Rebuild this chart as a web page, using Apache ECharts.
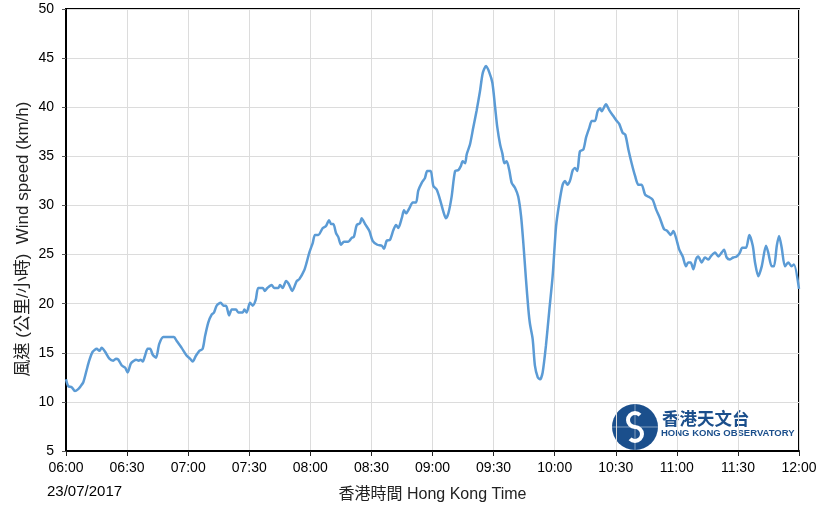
<!DOCTYPE html>
<html><head><meta charset="utf-8">
<script src="https://cdn.jsdelivr.net/npm/echarts@6/dist/echarts.min.js"></script>
<style>html,body{margin:0;padding:0;background:#fff}#c{width:823px;height:516px}</style>
</head><body><div id="c"></div>
<script>
// minutes after 06:00
const minutes = [0,1.1,2.8,4.4,6.0,7.2,8.5,10.2,11.4,13.1,15.1,16.4,17.5,19.2,21.3,23.2,24.6,25.7,27.4,29.0,30.3,31.8,33.4,34.4,35.7,36.7,37.7,38.8,40.1,41.3,42.6,44.2,45.8,47.8,50.2,53.0,54.4,56.8,59.3,60.9,62.2,63.8,65.5,67.1,68.3,69.9,71.6,72.7,74.0,76.0,77.3,78.6,80.1,81.4,83.5,84.6,86.8,87.6,88.7,90.4,91.7,93.2,94.4,96.6,97.7,98.9,101.0,102.2,104.3,105.1,106.4,108.1,109.4,111.1,113.3,114.6,117.0,118.2,119.5,121.2,122.3,123.9,126.1,127.7,129.2,130.2,131.3,132.6,133.7,135.1,136.5,138.6,140.3,141.4,142.8,144.4,145.2,146.9,149.0,150.6,152.9,155.1,156.2,157.5,159.1,160.8,162.1,163.2,164.9,166.0,167.0,168.6,170.3,171.9,173.0,174.7,176.3,177.4,179.1,180.4,182.1,183.7,185.3,186.6,187.8,189.4,191.1,192.7,193.9,194.8,196.0,196.8,198.4,200.0,201.7,203.3,204.7,206.3,207.8,209.4,210.7,211.8,213.2,214.3,215.3,216.4,217.7,218.9,220.5,222.1,223.5,224.6,225.9,227.1,227.9,229.2,230.3,231.7,232.8,234.1,235.7,237.4,239.0,240.7,242.3,243.9,245.1,246.2,247.5,248.9,250.0,251.1,252.4,254.1,255.4,257.0,258.2,259.8,261.1,262.3,263.1,265.2,266.8,268.8,270.5,271.7,273.4,274.7,276.2,277.8,279.5,281.1,282.7,284.4,286.0,288.1,289.8,291.7,293.7,295.3,297.0,298.3,299.6,301.2,302.9,304.5,305.6,306.8,308.1,309.4,310.5,312.2,313.8,315.5,316.6,318.8,320.4,322.0,323.2,324.5,326.1,327.7,329.4,331.0,332.1,334.0,335.6,337.3,338.4,340.0,341.7,343.8,344.9,346.6,347.7,349.1,350.2,351.5,353.1,354.7,356.4,357.5,360.0];
// wind speed, km/h
const speeds = [12.3,11.6,11.5,11.1,11.3,11.6,12.0,13.3,14.2,15.1,15.4,15.2,15.5,15.1,14.4,14.2,14.4,14.3,13.7,13.5,13.0,13.9,14.2,14.3,14.2,14.3,14.1,14.7,15.4,15.4,14.8,14.5,15.9,16.6,16.6,16.6,16.2,15.5,14.7,14.4,14.1,14.7,15.2,15.4,16.7,18.1,18.9,19.1,19.8,20.1,19.8,19.8,18.8,19.4,19.4,19.1,19.1,19.4,19.1,20.1,19.8,20.4,21.6,21.6,21.3,21.6,21.9,21.6,21.6,21.9,21.6,22.3,22.0,21.3,22.3,22.5,23.4,24.2,25.2,26.2,27.0,27.0,27.7,27.9,28.5,28.1,28.1,27.2,26.8,26.0,26.3,26.3,26.7,26.8,28.0,28.2,28.7,28.1,27.4,26.4,26.0,25.9,25.6,26.4,26.5,27.5,28.0,27.7,28.7,29.5,29.2,29.7,30.3,30.3,31.5,32.3,32.8,33.5,33.5,32.0,31.6,30.6,29.4,28.7,29.2,30.9,33.5,33.6,34.0,34.5,34.3,35.2,36.2,37.9,39.7,41.6,43.5,44.2,43.6,42.5,40.1,38.0,36.2,35.3,34.3,34.5,33.6,32.3,31.8,30.9,28.9,26.2,22.5,19.4,17.9,16.4,13.7,12.5,12.3,13.0,15.7,19.4,22.8,27.9,30.3,32.1,32.5,32.1,32.5,33.6,33.8,33.5,35.5,35.7,36.9,37.9,38.6,38.6,39.6,39.9,39.6,40.3,39.7,39.1,38.6,38.3,37.4,37.2,35.7,34.3,33.0,32.1,32.1,31.1,30.9,30.6,29.6,28.7,27.6,27.4,27.0,27.4,26.7,25.5,24.8,23.8,24.2,24.2,23.5,24.5,24.8,24.2,24.7,24.5,24.8,25.2,24.8,25.2,25.5,24.7,24.5,24.7,24.8,25.2,25.7,25.7,27.0,25.9,24.2,22.8,23.8,25.9,25.2,23.8,23.8,25.9,26.9,25.7,23.8,24.2,23.8,24.0,21.5];
const xTickLabels = ['06:00','06:30','07:00','07:30','08:00','08:30','09:00','09:30','10:00','10:30','11:00','11:30','12:00'];
const dateLabel = '23/07/2017';
const xAxisTitle = '香港時間 Hong Kong Time';
const yAxisTitle = '風速 (公里/小時)  Wind speed (km/h)';
const logoZh = '香港天文台';
const logoEn = 'HONG KONG OBSERVATORY';

const FONT = "'Liberation Sans', 'Noto Sans CJK TC', sans-serif";
const chart = echarts.init(document.getElementById('c'), null, {renderer: 'canvas'});
const logoBlue = '#1b4f8c';
chart.setOption({
  animation: false,
  backgroundColor: '#fff',
  textStyle: {fontFamily: FONT},
  grid: {left: 66, right: 24, top: 9, bottom: 65, show: true, borderColor: '#000', borderWidth: 2, containLabel: false},
  xAxis: {
    type: 'value', min: 0, max: 360, interval: 30,
    name: xAxisTitle, nameLocation: 'middle', nameGap: 36,
    nameTextStyle: {fontSize: 16, color: '#222', fontFamily: FONT},
    axisLine: {show: true, lineStyle: {color: '#000', width: 2}},
    axisTick: {show: true, length: 5, lineStyle: {color: '#222'}},
    axisLabel: {formatter: v => xTickLabels[Math.round(v / 30)], fontSize: 14, color: '#000', margin: 10, fontFamily: FONT},
    splitLine: {show: true, lineStyle: {color: '#dcdcdc', width: 1}}
  },
  yAxis: {
    type: 'value', min: 5, max: 50, interval: 5,
    axisLine: {show: true, lineStyle: {color: '#000', width: 2}},
    axisTick: {show: true, length: 4, lineStyle: {color: '#555'}},
    axisLabel: {fontSize: 14, color: '#000', margin: 12, fontFamily: FONT},
    splitLine: {show: true, lineStyle: {color: '#dcdcdc', width: 1}}
  },
  graphic: [
    {type: 'text', left: 47, top: 484, style: {text: dateLabel, font: "15px 'Liberation Sans', sans-serif", fill: '#000'}},
    {type: 'text', x: 23, y: 239, rotation: Math.PI / 2,
     style: {text: yAxisTitle, font: "17px 'Liberation Sans', 'Noto Sans CJK TC', sans-serif", fill: '#222', align: 'center', verticalAlign: 'middle'}},
    {type: 'group', x: 635, y: 427, children: [
      {type: 'circle', shape: {cx: 0, cy: 0, r: 23}, style: {fill: logoBlue}},
      {type: 'arc', shape: {cx: 0, cy: -7, r: 7, startAngle: -Math.PI / 4, endAngle: Math.PI / 2, clockwise: false}, style: {stroke: '#fff', lineWidth: 4, fill: null}},
      {type: 'arc', shape: {cx: 0, cy: 7, r: 7, startAngle: -Math.PI / 2, endAngle: Math.PI * 0.75, clockwise: true}, style: {stroke: '#fff', lineWidth: 4, fill: null}},
      {type: 'line', shape: {x1: -23, y1: 0, x2: 23, y2: 0}, style: {stroke: 'rgba(255,255,255,0.45)', lineWidth: 1}},
      {type: 'line', shape: {x1: 0, y1: -23, x2: 0, y2: 23}, style: {stroke: 'rgba(255,255,255,0.45)', lineWidth: 1}}
    ]},
    {type: 'text', left: 662, top: 410, style: {text: logoZh, font: "bold 17.5px 'Noto Sans CJK TC', sans-serif", fill: logoBlue}},
    {type: 'text', left: 661, top: 428, style: {text: logoEn, font: "bold 9.5px 'Liberation Sans', sans-serif", fill: logoBlue}}
  ],
  series: [{
    type: 'line',
    data: minutes.map((m, i) => [m, speeds[i]]),
    showSymbol: false, symbol: 'none',
    smooth: 0.25,
    lineStyle: {color: '#5b9bd5', width: 2.5},
    z: 3
  }]
});
</script>
</body></html>
